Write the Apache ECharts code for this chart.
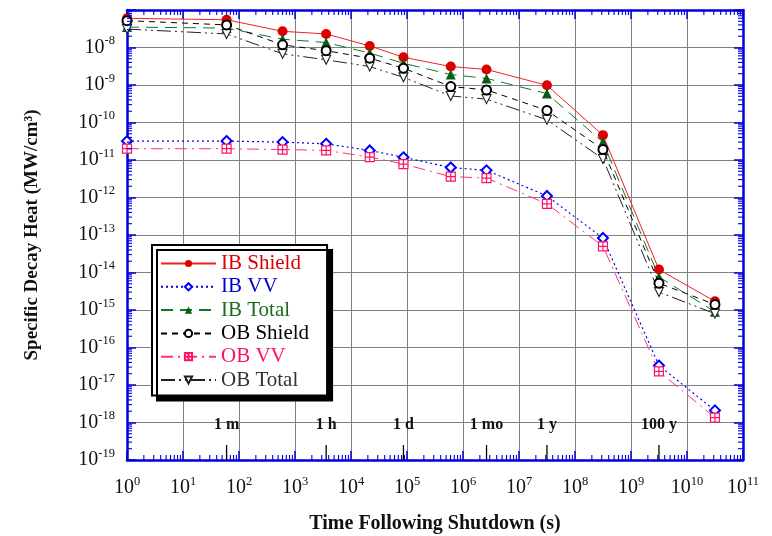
<!DOCTYPE html>
<html>
<head>
<meta charset="utf-8">
<script src="https://cdn.jsdelivr.net/npm/echarts@6/dist/echarts.min.js"></script>
<style>
  html, body { margin: 0; padding: 0; background: #fff; }
  #chart { width: 772px; height: 536px; }
</style>
</head>
<body>
<div id="chart"></div>
<script>
// time after shutdown (s)
var times = [1, 60, 600, 3600, 21600, 86400, 604800, 2.63e6, 3.156e7, 3.156e8, 3.156e9, 3.156e10];
// specific decay heat (MW/cm3)
var ibShield = [6.0e-8, 5.5e-8, 2.7e-8, 2.3e-8, 1.1e-8, 5.5e-9, 3.1e-9, 2.6e-9, 9.8e-10, 4.6e-11, 1.2e-14, 1.7e-15];
var ibVV     = [3.2e-11, 3.2e-11, 3.0e-11, 2.7e-11, 1.8e-11, 1.18e-11, 6.3e-12, 5.3e-12, 1.1e-12, 8.3e-14, 3.3e-17, 2.1e-18];
var ibTotal  = [3.5e-8, 3.3e-8, 1.66e-8, 1.36e-8, 7.1e-9, 3.8e-9, 1.9e-9, 1.5e-9, 5.9e-10, 3.0e-11, 7.6e-15, 9.0e-16];
var obShield = [5.2e-8, 4.0e-8, 1.18e-8, 8.2e-9, 5.2e-9, 2.8e-9, 9.1e-10, 7.4e-10, 2.1e-10, 1.9e-11, 5.2e-15, 1.4e-15];
var obVV     = [2.0e-11, 2.0e-11, 1.9e-11, 1.8e-11, 1.2e-11, 7.8e-12, 3.6e-12, 3.3e-12, 6.8e-13, 5.0e-14, 2.3e-17, 1.35e-18];
var obTotal  = [3.1e-8, 2.3e-8, 6.8e-9, 4.7e-9, 3.1e-9, 1.6e-9, 5.1e-10, 4.2e-10, 1.18e-10, 1.07e-11, 3.0e-15, 8.0e-16];

// time markers along the bottom
var markTimes  = [60, 3600, 86400, 2.63e6, 3.156e7, 3.156e9];
var markLabels = ['1 m', '1 h', '1 d', '1 mo', '1 y', '100 y'];

var X_MIN = 1, X_MAX = 1e11;
var Y_MIN = 1e-19, Y_MAX = 1e-7;
var BLUE_AXIS = '#0000dd';
var SERIF = '"Liberation Serif", "DejaVu Serif", serif';

// log-spaced minor ticks (2..9 in each decade)
var xMinorTicks = [], yMinorTicks = [];
for (var d = 0; d < 11; d++) {
  for (var m = 2; m <= 9; m++) xMinorTicks.push(m * Math.pow(10, d));
}
for (var d2 = -19; d2 < -7; d2++) {
  for (var m2 = 2; m2 <= 9; m2++) yMinorTicks.push(m2 * Math.pow(10, d2));
}

function pairs(ys) {
  return times.map(function (t, i) { return [t, ys[i]]; });
}

function powLabel(v) {
  var e = Math.round(Math.log(v) / Math.LN10);
  return '{b|10}{s|' + e + '}';
}

var richLabel = {
  b: { fontFamily: SERIF, fontSize: 20, lineHeight: 26, color: '#111' },
  s: { fontFamily: SERIF, fontSize: 12.5, lineHeight: 10, verticalAlign: 'top', color: '#111' }
};

var chart = echarts.init(document.getElementById('chart'), null, { renderer: 'canvas' });

var option = {
  backgroundColor: '#fff',
  animation: false,
  grid: { left: 127, right: 29, top: 10, bottom: 76, containLabel: false, outerBoundsMode: 'none' },
  legend: {
    orient: 'vertical',
    left: 152,
    top: 245,
    selectedMode: false,
    itemWidth: 55,
    itemHeight: 9,
    itemGap: 2.3,
    padding: [8, 18, 5, 8],
    backgroundColor: '#fff',
    borderColor: '#000',
    borderWidth: 2,
    borderRadius: 0,
    shadowColor: '#000',
    shadowBlur: 0,
    shadowOffsetX: 5,
    shadowOffsetY: 5,
    textStyle: { fontFamily: SERIF, fontSize: 21, lineHeight: 21 },
    data: [
      { name: 'IB Shield', textStyle: { color: '#dd0000' } },
      { name: 'IB VV', textStyle: { color: '#0000cc' } },
      { name: 'IB Total', textStyle: { color: '#1a6b1a' } },
      { name: 'OB Shield', textStyle: { color: '#000' } },
      { name: 'OB VV', textStyle: { color: '#ff1166' } },
      { name: 'OB Total', textStyle: { color: '#333' } }
    ]
  },
  xAxis: [{
    type: 'log',
    logBase: 10,
    min: X_MIN,
    max: X_MAX,
    interval: 1,
    name: 'Time Following Shutdown (s)',
    nameLocation: 'middle',
    nameGap: 54,
    nameTextStyle: { fontFamily: SERIF, fontSize: 20, fontWeight: 'bold', color: '#111' },
    axisLine: { onZero: false, lineStyle: { color: BLUE_AXIS, width: 2.5 } },
    axisTick: { inside: true, length: 9, lineStyle: { color: BLUE_AXIS, width: 1.5 } },
    axisLabel: { margin: 15, formatter: powLabel, rich: richLabel },
    splitLine: { show: true, lineStyle: { color: '#808080', width: 1 } }
  }, {
    type: 'log',
    logBase: 10,
    position: 'top',
    min: X_MIN,
    max: X_MAX,
    interval: 1,
    axisLine: { onZero: false, lineStyle: { color: BLUE_AXIS, width: 2.5 } },
    axisTick: { inside: true, length: 9, lineStyle: { color: BLUE_AXIS, width: 1.5 } },
    axisLabel: { show: false },
    splitLine: { show: false }
  }],
  yAxis: [{
    type: 'log',
    logBase: 10,
    min: Y_MIN,
    max: Y_MAX,
    interval: 1,
    name: 'Specific Decay Heat (MW/cm\u00b3)',
    nameLocation: 'middle',
    nameGap: 85,
    nameTextStyle: { fontFamily: SERIF, fontSize: 19, fontWeight: 'bold', color: '#111' },
    axisLine: { onZero: false, lineStyle: { color: BLUE_AXIS, width: 2.5 } },
    axisTick: { inside: true, length: 9, lineStyle: { color: BLUE_AXIS, width: 1.5 } },
    axisLabel: {
      margin: 12,
      formatter: function (v) {
        return Math.round(Math.log(v) / Math.LN10) === -7 ? '' : powLabel(v);
      },
      rich: richLabel
    },
    splitLine: { show: true, lineStyle: { color: '#808080', width: 1 } }
  }, {
    type: 'log',
    logBase: 10,
    position: 'right',
    min: Y_MIN,
    max: Y_MAX,
    interval: 1,
    axisLine: { onZero: false, lineStyle: { color: BLUE_AXIS, width: 2.5 } },
    axisTick: { inside: true, length: 9, lineStyle: { color: BLUE_AXIS, width: 1.5 } },
    axisLabel: { show: false },
    splitLine: { show: false }
  }],
  series: [
    {
      name: 'xMinor',
      type: 'custom',
      silent: true,
      clip: false,
      z: 6,
      data: xMinorTicks.map(function (v) { return [v, Y_MIN]; }),
      renderItem: function (params, api) {
        var b = api.coord([api.value(0), Y_MIN]);
        var t = api.coord([api.value(0), Y_MAX]);
        var st = { stroke: BLUE_AXIS, lineWidth: 1.1 };
        return { type: 'group', children: [
          { type: 'line', shape: { x1: b[0], y1: b[1], x2: b[0], y2: b[1] - 5 }, style: st },
          { type: 'line', shape: { x1: t[0], y1: t[1], x2: t[0], y2: t[1] + 5 }, style: st }
        ] };
      }
    },
    {
      name: 'yMinor',
      type: 'custom',
      silent: true,
      clip: false,
      z: 6,
      data: yMinorTicks.map(function (v) { return [X_MIN, v]; }),
      renderItem: function (params, api) {
        var l = api.coord([X_MIN, api.value(1)]);
        var r = api.coord([X_MAX, api.value(1)]);
        var st = { stroke: BLUE_AXIS, lineWidth: 1.1 };
        return { type: 'group', children: [
          { type: 'line', shape: { x1: l[0], y1: l[1], x2: l[0] + 5, y2: l[1] }, style: st },
          { type: 'line', shape: { x1: r[0], y1: r[1], x2: r[0] - 5, y2: r[1] }, style: st }
        ] };
      }
    },
    {
      name: 'timeMarks',
      type: 'custom',
      silent: true,
      clip: false,
      z: 7,
      data: markTimes.map(function (t) { return [t, Y_MIN]; }),
      renderItem: function (params, api) {
        var p = api.coord([api.value(0), Y_MIN]);
        return { type: 'group', children: [
          { type: 'line', shape: { x1: p[0], y1: p[1], x2: p[0], y2: p[1] - 15 },
            style: { stroke: '#000', lineWidth: 1.3 } },
          { type: 'text', x: p[0], y: p[1] - 35,
            style: { text: markLabels[params.dataIndex], fill: '#111', font: 'bold 16px ' + SERIF,
                     textAlign: 'center', textVerticalAlign: 'middle' } }
        ] };
      }
    },
    {
      name: 'IB Shield',
      type: 'line',
      data: pairs(ibShield),
      symbol: 'circle',
      symbolSize: 10,
      itemStyle: { color: '#dd0000' },
      lineStyle: { color: '#ee2222', width: 1, type: 'solid' },
      z: 3
    },
    {
      name: 'IB VV',
      type: 'line',
      data: pairs(ibVV),
      symbol: 'emptyDiamond',
      symbolSize: 10,
      itemStyle: { color: '#0000ff', borderWidth: 1 },
      lineStyle: { color: '#0000ee', width: 1.2, type: [2, 3] },
      z: 3
    },
    {
      name: 'IB Total',
      type: 'line',
      data: pairs(ibTotal),
      symbol: 'triangle',
      symbolSize: 10,
      itemStyle: { color: '#0b5a16' },
      lineStyle: { color: '#117722', width: 1, type: [12, 7] },
      z: 3
    },
    {
      name: 'OB Shield',
      type: 'line',
      data: pairs(obShield),
      symbol: 'emptyCircle',
      symbolSize: 9,
      itemStyle: { color: '#000', borderWidth: 1.3 },
      lineStyle: { color: '#000', width: 1, type: [6, 5] },
      z: 4
    },
    {
      name: 'OB VV',
      type: 'line',
      data: pairs(obVV),
      symbol: 'path://M0,0H10V10H0Z M5,0V10 M0,5H10',
      symbolSize: 9,
      itemStyle: { color: '#fff', borderColor: '#ff1166', borderWidth: 1.2 },
      lineStyle: { color: '#ff3377', width: 1, type: [12, 5, 2, 5] },
      z: 3
    },
    {
      name: 'OB Total',
      type: 'line',
      data: pairs(obTotal),
      symbol: 'path://M0,0L10,0L5,10Z',
      symbolSize: 9,
      itemStyle: { color: '#fff', borderColor: '#222', borderWidth: 1.1 },
      lineStyle: { color: '#222', width: 1, type: [14, 4, 2, 4, 2, 4] },
      z: 3
    }
  ]
};

chart.setOption(option);
</script>
</body>
</html>
